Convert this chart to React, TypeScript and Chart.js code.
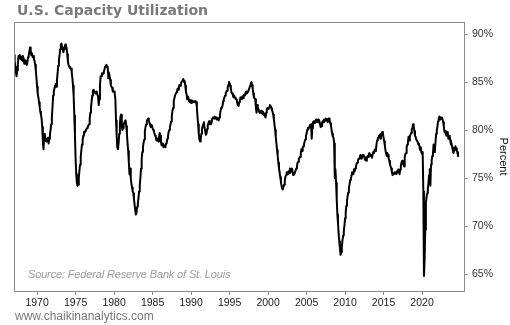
import React, { useEffect, useRef } from "react";
import { Chart, registerables } from "chart.js";

Chart.register(...registerables);

// Monthly capacity utilization (%), starting January of startYear
const startYear = 1967;
const utilization: number[] = [
  87.8, 87.2, 86.6, 86.0, 85.6, 86.2, 86.9, 87.7, 87.5, 87.8, 87.4, 87.6, // 1967
  87.3, 87.7, 87.2, 87.5, 86.9, 87.3, 87.0, 87.2, 86.8, 87.1, 87.6, 87.8, // 1968
  88.2, 88.6, 88.3, 87.8, 88.0, 87.6, 87.7, 87.4, 87.2, 86.8, 86.2, 85.4, // 1969
  84.5, 83.8, 83.4, 82.9, 82.4, 81.9, 81.6, 81.2, 80.3, 78.8, 78.0, 79.3, // 1970
  79.6, 79.0, 78.8, 79.1, 78.9, 79.2, 78.6, 79.1, 79.5, 80.0, 80.6, 81.3, // 1971
  82.4, 83.6, 84.0, 84.3, 84.6, 84.8, 84.5, 85.2, 86.0, 86.7, 87.3, 87.8, // 1972
  88.4, 88.9, 89.0, 88.6, 88.4, 88.1, 88.4, 88.7, 88.9, 88.8, 88.5, 87.9, // 1973
  87.1, 86.8, 86.6, 86.5, 86.4, 86.4, 86.0, 85.4, 84.6, 83.5, 81.5, 79.4, // 1974
  77.0, 75.4, 74.5, 74.2, 74.3, 75.0, 75.8, 76.4, 77.2, 77.9, 78.5, 79.0, // 1975
  79.4, 79.8, 79.7, 79.9, 80.0, 80.1, 80.2, 80.3, 80.5, 80.6, 81.2, 81.8, // 1976
  82.3, 83.0, 83.6, 84.1, 84.2, 84.0, 83.9, 83.8, 83.9, 84.0, 83.7, 83.5, // 1977
  82.6, 83.2, 84.6, 85.6, 85.6, 85.9, 85.8, 85.9, 86.1, 86.3, 86.6, 86.7, // 1978
  86.8, 86.5, 86.6, 85.4, 86.0, 85.6, 85.2, 84.6, 84.5, 84.4, 84.0, 84.0, // 1979
  84.0, 83.8, 83.2, 81.0, 79.4, 78.2, 78.0, 78.6, 79.6, 80.6, 81.4, 81.6, // 1980
  80.4, 80.0, 80.2, 80.6, 80.8, 80.9, 81.0, 80.4, 79.6, 78.6, 77.8, 76.6, // 1981
  75.4, 76.0, 75.0, 74.4, 74.0, 73.6, 73.4, 72.8, 72.2, 71.6, 71.2, 71.4, // 1982
  72.0, 72.3, 72.9, 73.6, 74.2, 75.0, 76.0, 77.0, 77.7, 78.2, 78.7, 79.0, // 1983
  79.9, 80.3, 80.6, 80.9, 81.1, 81.2, 81.0, 80.8, 80.6, 80.3, 80.4, 80.5, // 1984
  80.2, 80.0, 79.9, 79.6, 79.4, 79.3, 78.9, 79.1, 79.0, 78.8, 79.2, 79.7, // 1985
  79.4, 78.8, 78.4, 78.6, 78.5, 78.2, 78.4, 78.3, 78.2, 78.6, 78.7, 79.1, // 1986
  79.3, 79.8, 80.0, 80.3, 80.6, 80.9, 81.5, 82.0, 82.3, 83.0, 83.3, 83.6, // 1987
  83.6, 83.9, 84.0, 84.3, 84.2, 84.5, 84.7, 84.6, 84.7, 85.0, 85.1, 85.2, // 1988
  85.3, 85.0, 85.1, 84.6, 84.0, 83.7, 83.2, 83.5, 83.3, 83.0, 82.9, 83.1, // 1989
  82.8, 83.1, 83.0, 82.9, 83.0, 83.0, 82.9, 83.0, 82.9, 82.4, 81.4, 80.6, // 1990
  79.6, 79.0, 78.8, 79.1, 79.6, 80.1, 80.4, 80.6, 80.8, 80.2, 79.9, 79.5, // 1991
  79.6, 80.1, 80.5, 80.7, 80.9, 80.6, 80.9, 80.6, 80.8, 81.2, 81.3, 81.3, // 1992
  81.2, 81.4, 81.2, 81.3, 81.1, 81.1, 81.2, 81.0, 81.3, 81.6, 82.0, 82.3, // 1993
  82.4, 82.5, 83.0, 83.2, 83.4, 83.6, 83.8, 84.0, 84.1, 84.4, 84.7, 85.0, // 1994
  84.9, 84.6, 84.3, 83.9, 83.8, 83.7, 83.4, 83.6, 83.6, 83.3, 83.2, 83.2, // 1995
  82.8, 82.6, 82.5, 82.9, 83.1, 83.4, 83.2, 83.3, 83.5, 83.3, 83.6, 83.7, // 1996
  83.6, 83.9, 84.0, 83.8, 83.9, 84.0, 84.0, 84.4, 84.6, 84.8, 85.0, 84.7, // 1997
  84.3, 83.8, 83.4, 83.3, 83.2, 82.4, 81.8, 82.6, 82.2, 82.2, 81.9, 81.8, // 1998
  81.8, 82.0, 81.8, 81.7, 81.9, 81.6, 81.7, 81.5, 81.3, 81.8, 82.1, 82.3, // 1999
  82.2, 82.3, 82.4, 82.6, 82.5, 82.3, 82.1, 81.9, 81.6, 81.1, 80.6, 80.0, // 2000
  79.3, 78.6, 77.9, 77.3, 76.6, 76.0, 75.6, 75.1, 74.6, 74.2, 73.9, 73.8, // 2001
  74.1, 74.3, 74.7, 75.1, 75.3, 75.6, 75.4, 75.6, 75.7, 75.5, 76.0, 75.6, // 2002
  75.9, 76.0, 75.8, 75.3, 75.4, 75.4, 75.6, 75.6, 76.0, 76.2, 76.6, 76.7, // 2003
  77.0, 77.1, 77.2, 77.6, 78.0, 77.8, 78.2, 78.3, 78.5, 78.8, 79.0, 79.4, // 2004
  79.6, 80.0, 80.2, 80.1, 80.3, 80.5, 80.3, 80.6, 79.1, 80.2, 80.8, 80.9, // 2005
  80.9, 80.7, 80.8, 81.1, 80.9, 81.0, 80.8, 81.1, 80.9, 80.6, 80.3, 80.7, // 2006
  80.4, 80.9, 80.8, 81.1, 80.9, 81.0, 81.2, 81.0, 81.1, 80.8, 81.2, 81.2, // 2007
  81.0, 80.7, 80.5, 80.0, 79.6, 79.3, 79.2, 78.6, 75.0, 75.9, 74.5, 72.8, // 2008
  71.2, 70.3, 69.2, 68.4, 67.7, 67.0, 67.3, 67.9, 68.5, 69.0, 69.4, 70.0, // 2009
  70.8, 71.4, 72.1, 72.6, 73.1, 73.5, 74.0, 74.3, 74.8, 74.9, 75.2, 75.6, // 2010
  75.6, 75.4, 75.9, 75.7, 76.0, 76.2, 76.5, 76.6, 76.8, 77.0, 77.0, 77.2, // 2011
  77.4, 77.2, 77.0, 77.4, 77.3, 77.4, 77.2, 76.9, 77.0, 76.8, 77.1, 77.3, // 2012
  77.2, 77.5, 77.6, 77.4, 77.3, 77.4, 77.1, 77.5, 77.7, 77.6, 77.9, 78.0, // 2013
  77.8, 78.5, 78.9, 79.2, 79.2, 79.4, 79.5, 79.1, 79.6, 79.5, 79.8, 79.6, // 2014
  79.2, 78.8, 78.4, 77.9, 77.5, 77.3, 77.6, 77.4, 77.0, 76.8, 76.4, 76.2, // 2015
  76.0, 75.6, 75.3, 75.4, 75.5, 75.6, 75.5, 75.6, 75.4, 75.7, 75.6, 75.9, // 2016
  75.9, 75.4, 75.9, 76.3, 76.6, 76.8, 76.7, 76.4, 76.2, 77.2, 77.5, 77.6, // 2017
  78.2, 78.5, 78.7, 79.3, 78.9, 79.4, 79.5, 79.7, 80.1, 80.2, 80.6, 80.4, // 2018
  79.9, 79.4, 79.3, 79.0, 79.0, 78.8, 78.5, 78.6, 78.3, 77.9, 78.2, 77.7, // 2019
  77.5, 77.7, 73.6, 64.8, 66.5, 69.6, 72.4, 73.0, 73.4, 73.9, 74.5, 75.3, // 2020
  75.9, 74.2, 76.4, 76.8, 77.3, 77.6, 78.5, 78.4, 77.7, 78.8, 79.6, 80.0, // 2021
  80.4, 80.9, 81.2, 81.4, 81.3, 81.1, 81.2, 81.3, 81.1, 80.8, 80.3, 79.8, // 2022
  79.9, 79.6, 79.4, 79.6, 79.8, 79.1, 79.2, 79.4, 78.9, 78.5, 78.6, 78.2, // 2023
  77.9, 77.6, 77.9, 78.0, 78.3, 78.1, 77.9, 77.7, 77.3, 77.2, // 2024
];

const yearTicks = [1970, 1975, 1980, 1985, 1990, 1995, 2000, 2005, 2010, 2015, 2020];
const percentTicks = [65, 70, 75, 80, 85, 90];

const titleText = "U.S. Capacity Utilization";
const sourceText = "Source: Federal Reserve Bank of St. Louis";
const siteText = "www.chaikinanalytics.com";
const yAxisTitle = "Percent";

const frameColor = "#8a8a8a";

const framePlugin = {
  id: "frame",
  afterDraw(chart: any) {
    const { ctx, chartArea } = chart;
    ctx.save();
    ctx.strokeStyle = frameColor;
    ctx.lineWidth = 1;
    ctx.beginPath();
    ctx.moveTo(chartArea.left + 0.5, chartArea.bottom);
    ctx.lineTo(chartArea.left + 0.5, chartArea.top + 0.5);
    ctx.lineTo(chartArea.right, chartArea.top + 0.5);
    ctx.stroke();
    ctx.restore();
  },
};

export default function App() {
  const canvasRef = useRef<HTMLCanvasElement | null>(null);

  useEffect(() => {
    const canvas = canvasRef.current;
    if (!canvas) return;
    const points = utilization.map((v, i) => ({ x: startYear + i / 12, y: v }));
    const chart = new Chart(canvas, {
      type: "line",
      data: {
        datasets: [
          {
            data: points,
            borderColor: "#000000",
            borderWidth: 2,
            pointRadius: 0,
            tension: 0,
            fill: false,
            borderJoinStyle: "round",
          },
        ],
      },
      options: {
        responsive: false,
        animation: false,
        devicePixelRatio: 1,
        layout: { padding: { left: 14, top: 22, right: 0, bottom: 0 } },
        plugins: {
          legend: { display: false },
          tooltip: { enabled: false },
          title: { display: false },
        },
        scales: {
          x: {
            type: "linear",
            position: "bottom",
            min: 1967,
            max: 2025.45,
            afterBuildTicks: (scale: any) => {
              scale.ticks = yearTicks.map((v) => ({ value: v }));
            },
            afterFit: (scale: any) => {
              scale.height = 34;
            },
            ticks: {
              autoSkip: false,
              maxRotation: 0,
              padding: 2,
              color: "#1a1a1a",
              font: { family: "'Liberation Sans', Arial, sans-serif", size: 10.5 },
              callback: (v: any) => String(v),
            },
            grid: {
              drawOnChartArea: false,
              drawTicks: true,
              tickLength: 4,
              color: frameColor,
            },
            border: { display: true, color: frameColor, width: 1 },
          },
          y: {
            type: "linear",
            position: "right",
            min: 63.23,
            max: 91.25,
            afterBuildTicks: (scale: any) => {
              scale.ticks = percentTicks.map((v) => ({ value: v }));
            },
            afterFit: (scale: any) => {
              scale.width = 46;
            },
            ticks: {
              padding: 4,
              color: "#333333",
              font: { family: "'Liberation Sans', Arial, sans-serif", size: 10.5 },
              callback: (v: any) => v + "%",
            },
            grid: {
              drawOnChartArea: false,
              drawTicks: true,
              tickLength: 4,
              color: frameColor,
            },
            border: { display: true, color: frameColor, width: 1 },
            title: {
              display: true,
              text: yAxisTitle,
              color: "#111111",
              padding: { top: 0, bottom: 0 },
              font: { family: "'Liberation Sans', Arial, sans-serif", size: 11 },
            },
          },
        },
      },
      plugins: [framePlugin],
    } as any);
    return () => chart.destroy();
  }, []);

  return (
    <div style={{ position: "fixed", left: 0, top: 0, width: 510, height: 325, background: "#fff", overflow: "hidden" }}>
      <canvas ref={canvasRef} width={510} height={325} style={{ position: "absolute", left: 0, top: 0, width: 510, height: 325 }} />
      <div
        style={{
          position: "absolute",
          left: 17,
          top: 3,
          fontFamily: "'DejaVu Sans', Verdana, sans-serif",
          fontWeight: "bold",
          fontSize: 14,
          lineHeight: "14px",
          color: "#7a7a7a",
          whiteSpace: "nowrap",
        }}
      >
        {titleText}
      </div>
      <div
        style={{
          position: "absolute",
          left: 28,
          top: 269,
          fontFamily: "'Liberation Sans', Arial, sans-serif",
          fontStyle: "italic",
          fontSize: 11,
          lineHeight: "11px",
          letterSpacing: "-0.15px",
          color: "#9a9a9a",
          whiteSpace: "nowrap",
        }}
      >
        {sourceText}
      </div>
      <div
        style={{
          position: "absolute",
          left: 15,
          top: 310,
          fontFamily: "'Liberation Sans', Arial, sans-serif",
          fontSize: 12,
          lineHeight: "12px",
          color: "#777777",
          whiteSpace: "nowrap",
        }}
      >
        {siteText}
      </div>
    </div>
  );
}
